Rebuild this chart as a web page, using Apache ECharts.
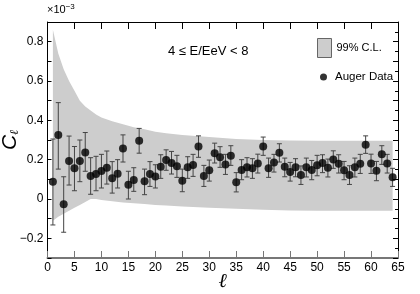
<!DOCTYPE html>
<html>
<head>
<meta charset="utf-8">
<script src="https://cdn.jsdelivr.net/npm/echarts@6/dist/echarts.min.js"></script>
<style>
html,body{margin:0;padding:0;background:#fff;}
#main{width:420px;height:294px;}
</style>
</head>
<body>
<div id="main"></div>
<script>
// multipole index ℓ
var ell = [1,2,3,4,5,6,7,8,9,10,11,12,13,14,15,16,17,18,19,20,21,22,23,24,25,26,27,28,29,30,31,32,
           33,34,35,36,37,38,39,40,41,42,43,44,45,46,47,48,49,50,51,52,53,54,55,56,57,58,59,60,61,62,63,64];
// Auger data C_ℓ (×10^-3)
var cl = [0.088,0.325,-0.027,0.193,0.156,0.193,0.237,0.117,0.127,0.142,0.159,0.105,0.129,0.257,0.073,0.096,
          0.296,0.090,0.127,0.115,0.164,0.198,0.183,0.166,0.093,0.161,0.173,0.267,0.117,0.146,0.233,0.212,
          0.176,0.220,0.085,0.147,0.162,0.156,0.181,0.267,0.156,0.186,0.235,0.164,0.137,0.161,0.122,0.161,
          0.147,0.171,0.183,0.159,0.201,0.179,0.146,0.122,0.161,0.179,0.276,0.181,0.144,0.227,0.181,0.110];
var errLo = [-0.132,0.152,-0.169,0.071,0.042,0.088,0.141,0.024,0.042,0.056,0.076,0.030,0.056,0.188,0.000,0.039,
             0.233,0.022,0.064,0.056,0.105,0.146,0.127,0.110,0.037,0.105,0.115,0.212,0.064,0.091,0.183,0.161,
             0.125,0.171,0.036,0.098,0.112,0.105,0.132,0.222,0.110,0.137,0.188,0.113,0.091,0.113,0.074,0.112,
             0.098,0.118,0.134,0.112,0.156,0.132,0.098,0.074,0.112,0.130,0.232,0.130,0.093,0.176,0.132,0.064];
var errHi = [0.305,0.490,0.113,0.320,0.267,0.300,0.338,0.210,0.217,0.227,0.244,0.190,0.200,0.326,0.141,0.159,
             0.359,0.152,0.190,0.174,0.225,0.250,0.242,0.222,0.152,0.215,0.227,0.321,0.171,0.198,0.284,0.266,
             0.227,0.271,0.134,0.200,0.210,0.205,0.228,0.315,0.208,0.227,0.281,0.208,0.186,0.205,0.168,0.208,
             0.196,0.222,0.225,0.203,0.245,0.225,0.191,0.169,0.208,0.227,0.321,0.228,0.191,0.271,0.227,0.156];
// 99% C.L. band edges
var bandL  = [1,2,3,4,5,6,7,8,9,10,12,14,16,18,20,22,25,30,35,40,45,50,55,60,64];
var bandUp = [0.86,0.74,0.66,0.60,0.55,0.50,0.47,0.45,0.43,0.415,0.395,0.38,0.365,0.355,0.342,0.334,0.326,0.315,0.305,0.300,0.297,0.296,0.296,0.296,0.296];
var bandLo = [-0.11,-0.09,-0.075,-0.06,-0.045,-0.03,-0.015,0.0,0.0,-0.005,-0.012,-0.018,-0.022,-0.026,-0.030,-0.033,-0.038,-0.045,-0.050,-0.055,-0.058,-0.060,-0.060,-0.060,-0.060];
var xTicks = [0,5,10,15,20,25,30,35,40,45,50,55,60,65];
var yLabels = [-0.2,0,0.2,0.4,0.6,0.8];

var FONT = 'Liberation Sans';
var chart = echarts.init(document.getElementById('main'), null, {renderer:'canvas'});

var pts = ell.map(function(l,i){return [l, cl[i]];});
var errs = ell.map(function(l,i){return [l, errLo[i], errHi[i]];});

function fmtY(v){
  var r = Math.round(v*10);
  var val = r/10;
  var hit = yLabels.some(function(y){return Math.abs(y-val)<1e-9;});
  if (!hit) return '';
  if (r === 0) return '0';
  return (r<0?'\u22120.':'0.') + Math.abs(r);
}

var option = {
  animation:false,
  backgroundColor:'#fff',
  grid:{left:47.5, right:22, top:22, bottom:36, containLabel:false, outerBoundsMode:'none'},
  xAxis:[{
    type:'value', min:0, max:65, interval:5, position:'bottom',
    name:'\u2113', nameLocation:'middle', nameGap:14, nameMoveOverlap:false,
    nameTextStyle:{fontFamily:'DejaVu Serif', fontStyle:'italic', fontSize:20, color:'#000'},
    axisLine:{show:true, onZero:false, lineStyle:{color:'#777', width:2}},
    axisTick:{show:true, inside:true, length:7, lineStyle:{color:'#777', width:1}},
    minorTick:{show:false},
    axisLabel:{fontFamily:FONT, fontSize:12, color:'#000', margin:4,
      formatter:function(v){return xTicks.indexOf(v)>=0 ? String(v) : '';}},
    splitLine:{show:false}
  },{
    type:'value', min:0, max:65, interval:5, position:'top',
    axisLine:{show:true, onZero:false, lineStyle:{color:'#000', width:1}},
    axisTick:{show:true, inside:true, length:7, lineStyle:{color:'#000'}},
    axisLabel:{show:false}, splitLine:{show:false}
  }],
  yAxis:[{
    type:'value', min:-0.3, max:0.9, interval:0.1, position:'left',
    name:'{c|C}{l|\u2113}', nameLocation:'middle', nameGap:27, nameRotate:90, nameMoveOverlap:false,
    nameTextStyle:{rich:{
      c:{fontFamily:FONT, fontStyle:'italic', fontSize:21, color:'#000', verticalAlign:'bottom'},
      l:{fontFamily:'DejaVu Serif', fontStyle:'italic', fontSize:12, color:'#000', verticalAlign:'bottom'}
    }},
    axisLine:{show:true, onZero:false, lineStyle:{color:'#000', width:1}},
    axisTick:{show:true, inside:true, length:4, lineStyle:{color:'#000'}},
    axisLabel:{fontFamily:FONT, fontSize:12, color:'#000', margin:4, formatter:fmtY},
    splitLine:{show:false}
  },{
    type:'value', min:-0.3, max:0.9, interval:0.1, position:'right',
    axisLine:{show:true, onZero:false, lineStyle:{color:'#000', width:1}},
    axisTick:{show:true, inside:true, length:5, lineStyle:{color:'#000'}},
    minorTick:{show:true, splitNumber:2, length:3, lineStyle:{color:'#000'}},
    axisLabel:{show:false}, splitLine:{show:false}
  }],
  legend:[{
    left:317, top:38, padding:0, itemWidth:14, itemHeight:19, itemGap:0,
    textStyle:{fontFamily:FONT, fontSize:11, color:'#000', padding:[0,0,0,0]},
    data:[{name:'99% C.L.', icon:'rect', itemStyle:{color:'#cdcdcd', borderColor:'#666', borderWidth:1}}]
  },{
    left:320, top:71, padding:0, itemWidth:7, itemHeight:7, itemGap:0,
    textStyle:{fontFamily:FONT, fontSize:11.5, color:'#000', padding:[0,0,0,3]},
    data:[{name:'Auger Data', icon:'circle', itemStyle:{color:'#000'}}]
  }],
  graphic:[{
    type:'text', left:47, top:3,
    style:{text:'{a|\u00d710}{b|\u22123}', rich:{
      a:{fontFamily:FONT, fontSize:11, fill:'#000'},
      b:{fontFamily:FONT, fontSize:8, fill:'#000', verticalAlign:'top', padding:[0,0,6,0]}
    }}
  },{
    type:'text', left:168, top:45,
    style:{text:'4 \u2264 E/EeV < 8', fontFamily:FONT, fontSize:13, fill:'#000'}
  }],
  series:[{
    name:'99% C.L.', type:'custom', xAxisIndex:0, yAxisIndex:0,
    itemStyle:{color:'#cdcdcd'},
    data:[[bandL[0], bandUp[0]]],
    renderItem:function(params, api){
      var poly = [];
      for (var i=0;i<bandL.length;i++) poly.push(api.coord([bandL[i], bandUp[i]]));
      for (var j=bandL.length-1;j>=0;j--) poly.push(api.coord([bandL[j], bandLo[j]]));
      return {type:'polygon', shape:{points:poly}, style:{fill:'#cdcdcd', stroke:null}};
    },
    z:1, silent:true
  },{
    name:'errors', type:'custom', xAxisIndex:0, yAxisIndex:0,
    data:errs,
    renderItem:function(params, api){
      var x = api.value(0);
      var lo = api.coord([x, api.value(1)]);
      var hi = api.coord([x, api.value(2)]);
      var w = 2.5;
      var st = {stroke:'#444', lineWidth:1};
      return {type:'group', children:[
        {type:'line', shape:{x1:lo[0], y1:lo[1], x2:hi[0], y2:hi[1]}, style:st},
        {type:'line', shape:{x1:lo[0]-w, y1:lo[1], x2:lo[0]+w, y2:lo[1]}, style:st},
        {type:'line', shape:{x1:hi[0]-w, y1:hi[1], x2:hi[0]+w, y2:hi[1]}, style:st}
      ]};
    },
    z:2, silent:true
  },{
    name:'Auger Data', type:'scatter', xAxisIndex:0, yAxisIndex:0,
    symbol:'circle', symbolSize:8, itemStyle:{color:'#000'},
    data:pts, z:3
  }]
};
chart.setOption(option);
</script>
</body>
</html>
